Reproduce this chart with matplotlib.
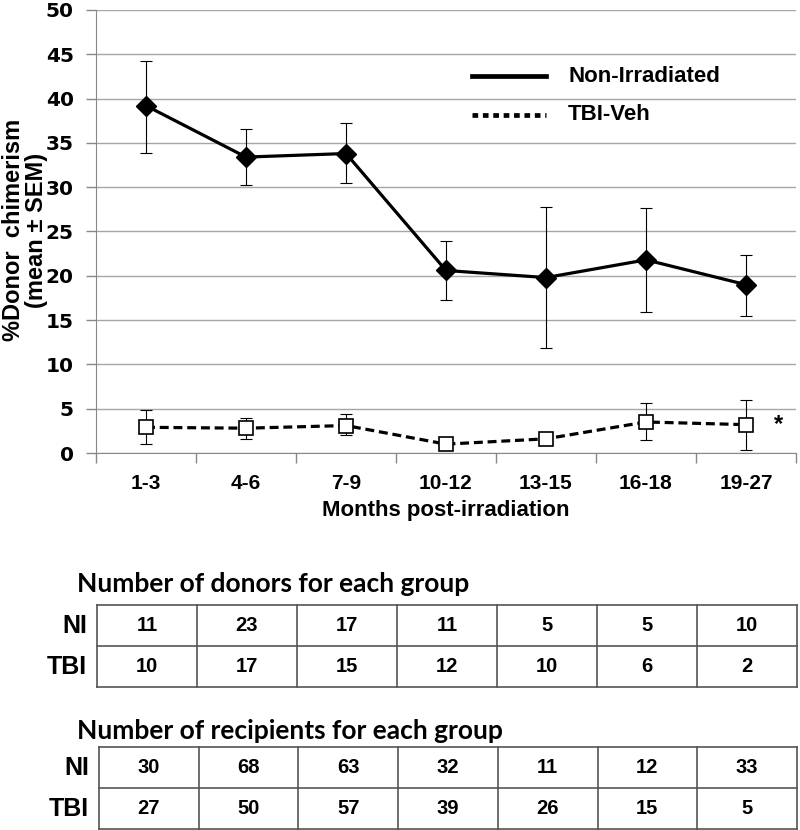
import matplotlib
matplotlib.use('Agg')
import numpy as np
import matplotlib.pyplot as plt

# data
months = ['1-3', '4-6', '7-9', '10-12', '13-15', '16-18', '19-27']
ni_mean = [39.2, 33.4, 33.8, 20.6, 19.8, 21.8, 19.0]
ni_lo = [33.9, 30.3, 30.5, 17.3, 11.9, 15.9, 15.5]
ni_hi = [44.3, 36.6, 37.2, 23.9, 27.8, 27.6, 22.4]
tbi_mean = [2.9, 2.8, 3.1, 1.0, 1.6, 3.5, 3.2]
tbi_lo = [1.0, 1.6, 2.0, 1.0, 1.6, 1.5, 0.3]
tbi_hi = [4.9, 3.9, 4.4, 1.0, 1.6, 5.6, 6.0]

row_names = ['NI', 'TBI']
donors_ni = [11, 23, 17, 11, 5, 5, 10]
donors_tbi = [10, 17, 15, 12, 10, 6, 2]
recip_ni = [30, 68, 63, 32, 11, 12, 33]
recip_tbi = [27, 50, 57, 39, 26, 15, 5]

W, H = 800, 830
fig = plt.figure(figsize=(8, 8.3), dpi=100)
plt.rcParams['font.family'] = ['Liberation Sans', 'DejaVu Sans']

# ---- line chart ----
ax = fig.add_axes([96 / W, 1 - 453 / H, 700 / W, 443 / H])
x = np.arange(len(months))
ni_m = np.array(ni_mean)
tb_m = np.array(tbi_mean)
ni_err = [ni_m - np.array(ni_lo), np.array(ni_hi) - ni_m]
tb_err = [tb_m - np.array(tbi_lo), np.array(tbi_hi) - tb_m]

ax.errorbar(x, ni_m, yerr=ni_err, fmt='none', ecolor='black', elinewidth=0.8, capsize=4, capthick=0.8, zorder=3)
ax.errorbar(x, tb_m, yerr=tb_err, fmt='none', ecolor='black', elinewidth=0.8, capsize=4, capthick=0.8, zorder=3)
ax.plot(x, ni_m, color='black', lw=2.3, marker='D', ms=10.5, mfc='black', mec='black', zorder=4)
ax.plot(x, tb_m, color='black', lw=2.3, ls=(0, (2.8, 1.5)), marker='s', ms=10, mfc='white', mec='black', mew=1.2, zorder=4)
ax.text(x[-1] + 0.28, tb_m[-1], '*', fontsize=17, fontweight='bold', ha='left', va='center')

# legend drawn by hand
ax.plot([3.26, 4.0], [42.5, 42.5], color='black', lw=3.4, clip_on=False)
ax.plot([3.26, 4.0], [38.2, 38.2], color='black', lw=3.4, ls=(0, (1.2, 1.0)), clip_on=False)
ax.text(4.22, 42.5, 'Non-Irradiated', fontsize=16, fontweight='bold', va='center')
ax.text(4.22, 38.2, 'TBI-Veh', fontsize=16, fontweight='bold', va='center')

ax.set_xlim(-0.5, len(months) - 0.5)
ax.set_ylim(0, 50)
ax.set_yticks(np.arange(0, 51, 5))
ax.set_xticks(x)
ax.set_xticklabels(months, fontsize=15, fontweight='bold')
ax.set_xticks(np.arange(-0.5, len(months) + 0.5, 1), minor=True)
ax.tick_params(axis='x', which='major', length=0, pad=15)
ax.tick_params(axis='x', which='minor', length=7, color='#888888', width=1)
ax.tick_params(axis='y', length=7, color='#888888', width=1, pad=9)
for lab in ax.get_yticklabels():
    lab.set_fontweight('bold')
    lab.set_family('DejaVu Sans')
    lab.set_fontsize(14.5)
ax.grid(axis='y', color='#a6a6a6', lw=1)
ax.set_axisbelow(True)
for s in ['top', 'right']:
    ax.spines[s].set_visible(False)
ax.spines['left'].set_color('#888888')
ax.spines['bottom'].set_color('#888888')
ax.set_xlabel('Months post-irradiation', fontsize=16, fontweight='bold', labelpad=5)

# y label placed by hand so it fits left of the wide tick labels
fig.text(25 / W, 1 - 230 / H, '%Donor  chimerism\n(mean ± SEM)', rotation=90, fontsize=17,
         fontweight='bold', ha='center', va='center', multialignment='center', linespacing=1.05)

# ---- tables (pixel coordinates) ----
tax = fig.add_axes([0, 0, 1, 1])
tax.set_xlim(0, W)
tax.set_ylim(H, 0)
tax.axis('off')


def draw_table(title, title_y, top, rows, left):
    right = 797
    rh = 41
    ncol = len(rows[0])
    cw = (right - left) / ncol
    tax.text(77, title_y, title, fontsize=19, fontweight='bold', family='Lato', va='baseline', ha='left')
    for r in range(len(rows) + 1):
        tax.plot([left, right], [top + r * rh, top + r * rh], color='#555555', lw=1.2)
    for c in range(ncol + 1):
        tax.plot([left + c * cw, left + c * cw], [top, top + len(rows) * rh], color='#555555', lw=1.2)
    for r, vals in enumerate(rows):
        yc = top + (r + 0.5) * rh
        tax.text(left - 10, yc, row_names[r], fontsize=18, fontweight='bold', ha='right', va='center')
        for c, v in enumerate(vals):
            tax.text(left + (c + 0.5) * cw, yc, str(v), fontsize=14.5, fontweight='bold', ha='center', va='center')


draw_table('Number of donors for each group', 592, 605, [donors_ni, donors_tbi], 97)
draw_table('Number of recipients for each group', 739, 747, [recip_ni, recip_tbi], 99)

fig.savefig('out.png', dpi=100)
